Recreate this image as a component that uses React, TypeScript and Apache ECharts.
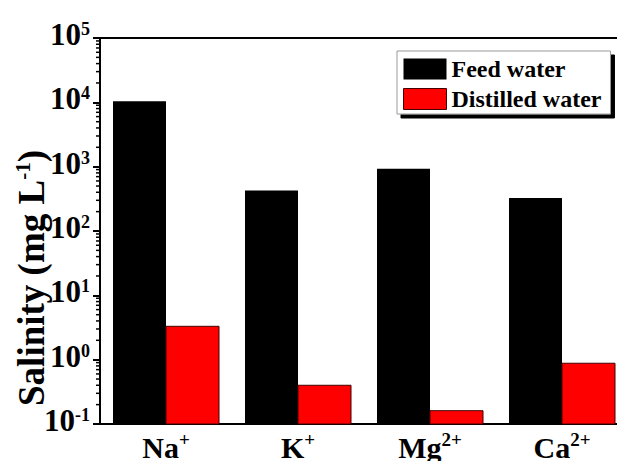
import React, { useEffect, useRef } from "react";
import * as echarts from "echarts";

const categories = ["Na", "K", "Mg", "Ca"];
const categoryCharges = ["+", "+", "2+", "2+"];
const feedWater = [10400, 425, 925, 327];
const distilledWater = [3.3, 0.4, 0.161, 0.88];
const seriesNames = ["Feed water", "Distilled water"];
const yMin = 0.1;
const yMax = 100000;
const decades = [0.1, 1, 10, 100, 1000, 10000];
const minorMultipliers = [2, 3, 4, 5, 6, 7, 8, 9];

const FONT = "'Liberation Serif', 'Times New Roman', serif";
const BAR_W = 53;

function barRenderer(side: number, fill: string, stroke: string, lw: number) {
  return (params: any, api: any) => {
    const i = api.value(0);
    const top = api.coord([i, api.value(1)]);
    const base = api.coord([i, yMin]);
    const x = side === 0 ? top[0] - BAR_W : top[0];
    return {
      type: "rect",
      shape: { x, y: top[1], width: BAR_W, height: base[1] - top[1] },
      style: { fill, stroke: lw > 0 ? stroke : undefined, lineWidth: lw },
    };
  };
}

export default function App() {
  const ref = useRef<HTMLDivElement>(null);
  useEffect(() => {
    if (!ref.current) return;
    const chart = echarts.init(ref.current, null, { renderer: "svg" });
    const minorTicks: number[][] = [];
    decades.forEach((d) => minorMultipliers.forEach((m) => minorTicks.push([0, d * m])));
    chart.setOption({
      animation: false,
      backgroundColor: "#fff",
      textStyle: { fontFamily: FONT },
      grid: {
        left: 100,
        right: -11,
        top: 38,
        bottom: 37,
        show: true,
        borderColor: "#000",
        borderWidth: 2,
        containLabel: false,
        outerBoundsMode: "none",
      },
      legend: {
        data: [
          { name: seriesNames[0], icon: "rect", itemStyle: { color: "#000" } },
          { name: seriesNames[1], icon: "rect", itemStyle: { color: "#ff0000", borderColor: "#400", borderWidth: 1 } },
        ],
        orient: "vertical",
        left: 397,
        top: 51,
        padding: [6, 9, 3, 6],
        itemWidth: 43,
        itemHeight: 21,
        itemGap: 6,
        backgroundColor: "#fff",
        borderColor: "#999",
        borderWidth: 1,
        shadowColor: "#000",
        shadowBlur: 0,
        shadowOffsetX: 4,
        shadowOffsetY: 4,
        textStyle: {
          fontFamily: FONT,
          fontSize: 24,
          fontWeight: "bold",
          color: "#000",
          lineHeight: 24,
        },
      },
      xAxis: {
        type: "category",
        data: categories,
        axisTick: { show: false },
        axisLine: { lineStyle: { color: "#000", width: 2 } },
        axisLabel: {
          margin: 6,
          formatter: (v: string, i: number) => `{b|${v}}{s|${categoryCharges[i]}}`,
          rich: {
            b: { fontFamily: FONT, fontSize: 30, fontWeight: "bold", color: "#000", lineHeight: 32, verticalAlign: "bottom" },
            s: { fontFamily: FONT, fontSize: 19, fontWeight: "bold", color: "#000", lineHeight: 32, verticalAlign: "top", padding: [0, 0, 12, 0] },
          },
        },
      },
      yAxis: {
        type: "log",
        logBase: 10,
        min: yMin,
        max: yMax,
        splitNumber: 6,
        splitLine: { show: false },
        axisLine: { show: true, lineStyle: { color: "#000", width: 2 } },
        axisTick: { show: true, inside: false, length: 7, lineStyle: { color: "#000", width: 2 } },
        axisLabel: {
          margin: 10,
          padding: [0, 0, 6, 0],
          formatter: (v: number) => {
            const e = Math.round(Math.log10(v));
            return `{b|10}{s|${e}}`;
          },
          rich: {
            b: { fontFamily: FONT, fontSize: 31, fontWeight: "bold", color: "#000", lineHeight: 30, verticalAlign: "bottom" },
            s: { fontFamily: FONT, fontSize: 18, fontWeight: "bold", color: "#000", lineHeight: 30, verticalAlign: "top", padding: [0, 0, 10, 0] },
          },
        },
      },
      graphic: [
        {
          type: "text",
          x: 31,
          y: 278,
          rotation: Math.PI / 2,
          style: {
            text: "Salinity (mg L{s|-1})",
            fontFamily: FONT,
            fontSize: 37,
            fontWeight: "bold",
            fill: "#000",
            align: "center",
            verticalAlign: "middle",
            rich: {
              s: { fontFamily: FONT, fontSize: 21, fontWeight: "bold", fill: "#000", verticalAlign: "top", padding: [0, 0, 14, 0] },
            },
          },
        },
      ],
      series: [
        {
          name: seriesNames[0],
          type: "custom",
          data: feedWater.map((v, i) => [i, v]),
          itemStyle: { color: "#000" },
          renderItem: barRenderer(0, "#000", "#000", 0),
        },
        {
          name: seriesNames[1],
          type: "custom",
          data: distilledWater.map((v, i) => [i, v]),
          itemStyle: { color: "#ff0000" },
          renderItem: barRenderer(1, "#ff0000", "#400", 1),
        },
        {
          type: "custom",
          silent: true,
          clip: false,
          z: 10,
          data: minorTicks,
          renderItem: (params: any, api: any) => {
            const pt = api.coord([0, api.value(1)]);
            const x = params.coordSys.x;
            return {
              type: "line",
              shape: { x1: x - 4, y1: pt[1], x2: x, y2: pt[1] },
              style: { stroke: "#000", lineWidth: 1.5 },
            };
          },
        },
      ],
    });
    return () => chart.dispose();
  }, []);
  return (
    <div
      ref={ref}
      style={{ position: "fixed", left: 0, top: 0, width: 617, height: 461, background: "#fff" }}
    />
  );
}
